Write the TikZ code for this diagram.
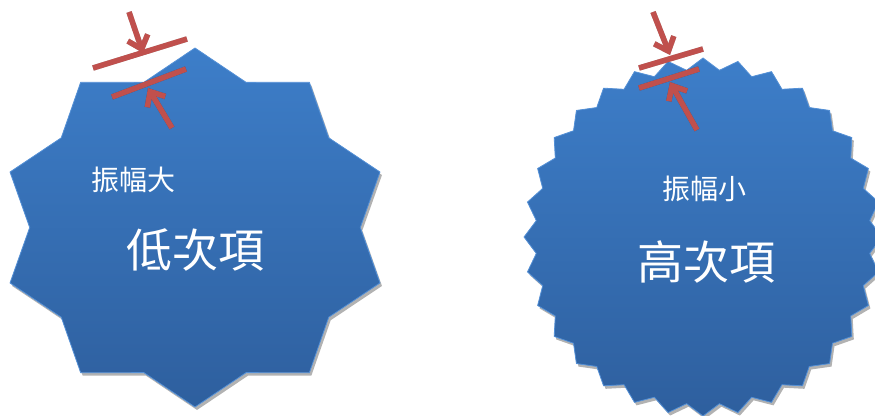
\documentclass[tikz,border=0pt]{standalone}
\usepackage{fontspec}
\newfontfamily\cjk{Noto Sans CJK TC}
\usetikzlibrary{arrows.meta}
\definecolor{startop}{RGB}{61,126,201}
\definecolor{starbot}{RGB}{46,95,158}
\definecolor{staredge}{RGB}{84,144,214}
\definecolor{markred}{RGB}{192,80,77}
% #1 points, #2 x radius, #3 y radius, #4 inner x radius, #5 inner y radius
\newcommand\mystarpath[5]{(90:#2 and #3) \foreach \i in {1,...,#1}{ -- ({90-(\i-0.5)*360/#1}:#4 and #5) -- ({90-\i*360/#1}:#2 and #3)} -- cycle}
\begin{document}
\begin{tikzpicture}[x=1pt,y=1pt,
  starbody/.style={top color=startop, bottom color=starbot, draw=staredge, line width=0.8pt, line join=miter},
  starshadow/.style={fill=black, opacity=0.3},
  redbar/.style={draw=markred, line width=5.5pt},
  redarrow/.style={draw=markred, line width=5.5pt, -{Straight Barb[length=12pt,width=21pt]}},
  markshadow/.style={draw=black, opacity=0.3, line width=5.5pt},
  markshadowarrow/.style={markshadow, -{Straight Barb[length=12pt,width=21pt]}},
  smalltext/.style={text=white, font=\cjk\fontsize{28}{30}\selectfont, inner sep=0pt},
  bigtext/.style={text=white, font=\cjk\fontsize{46}{48}\selectfont, inner sep=0pt}
]
\useasboundingbox (0,0) rectangle (875,415);
% left star (10 points)
\begin{scope}[shift={(197,184.5)}]
  \fill[starshadow] \mystarpath{10}{194.5}{179.5}{165.3}{152.6};
\end{scope}
\begin{scope}[shift={(195,187.5)}]
  \path[starbody] \mystarpath{10}{194.5}{179.5}{165.3}{152.6};
\end{scope}
% right star (32 points)
\begin{scope}[shift={(705,175)}]
  \fill[starshadow] \mystarpath{32}{179}{179}{167.5}{167.5};
\end{scope}
\begin{scope}[shift={(703,178)}]
  \path[starbody] \mystarpath{32}{179}{179}{167.5}{167.5};
\end{scope}
% texts
\node[smalltext] (amplarge) at (133,235) {振幅大};
\node[bigtext] (lowterm) at (195,165) {低次項};
\node[smalltext] (ampsmall) at (704,226) {振幅小};
\node[bigtext] (highterm) at (706,153) {高次項};
% left markers
\coordinate (lua) at (93,347); \coordinate (lub) at (187,376);
\coordinate (luf) at (129,403); \coordinate (lut) at (143,362);
\coordinate (lla) at (112,318); \coordinate (llb) at (186,346);
\coordinate (llf) at (172,287); \coordinate (llt) at (148,327);
% right markers
\coordinate (rua) at (639,347); \coordinate (rub) at (703,366);
\coordinate (ruf) at (653,403); \coordinate (rut) at (670,360);
\coordinate (rla) at (639,327); \coordinate (rlb) at (699,346);
\coordinate (rlf) at (697,285); \coordinate (rlt) at (670,333);
\begin{scope}[shift={(1.5,-2.5)}]
  \foreach \a/\b in {lua/lub,lla/llb,rua/rub,rla/rlb} \draw[markshadow] (\a) -- (\b);
  \foreach \a/\b in {luf/lut,llf/llt,ruf/rut,rlf/rlt} \draw[markshadowarrow] (\a) -- (\b);
\end{scope}
\foreach \a/\b in {lua/lub,lla/llb,rua/rub,rla/rlb} \draw[redbar] (\a) -- (\b);
\foreach \a/\b in {luf/lut,llf/llt,ruf/rut,rlf/rlt} \draw[redarrow] (\a) -- (\b);
\end{tikzpicture}
\end{document}
